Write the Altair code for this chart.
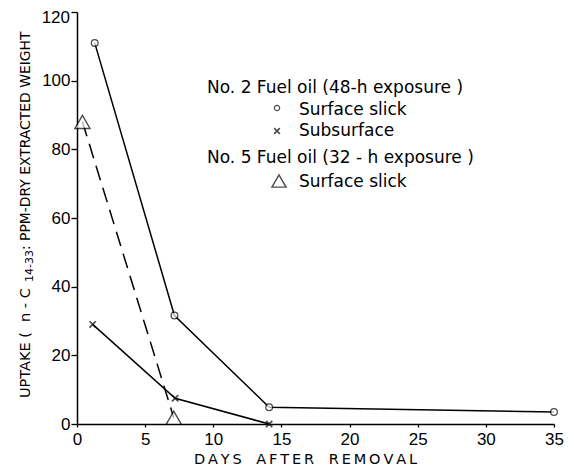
import altair as alt
import pandas as pd

# No. 2 Fuel oil, surface slick (circles)
s2_x = [1.3, 7.15, 14.1, 35.0]
s2_y = [111, 31.6, 4.9, 3.5]
# No. 2 Fuel oil, subsurface (x)
sub_x = [1.15, 7.2, 14.1]
sub_y = [29, 7.5, 0]
# No. 5 Fuel oil, surface slick (triangles)
s5_x = [0.4, 7.1]
s5_y = [88, 1.8]

x_ticks = [0, 5, 10, 15, 20, 25, 30, 35]
y_ticks = [0, 20, 40, 60, 80, 100, 120]

legend_lines = ["No. 2 Fuel oil (48-h exposure )", "Surface slick", "Subsurface",
                "No. 5 Fuel oil (32 - h exposure )", "Surface slick"]

x_title = "\u2002\u2002".join("\u2009".join(w) for w in ["DAYS", "AFTER", "REMOVAL"])
y_title_parts = ["UPTAKE (", "n - C", "14-33", " : PPM-DRY EXTRACTED WEIGHT"]

df2 = pd.DataFrame({"x": s2_x, "y": s2_y})
dsub = pd.DataFrame({"x": sub_x, "y": sub_y})
d5 = pd.DataFrame({"x": s5_x, "y": s5_y})
dtop = pd.DataFrame({"y": [y_ticks[-1]], "t": [str(y_ticks[-1])]})

FONT = "Liberation Sans"
TFONT = "DejaVu Sans"
xs = alt.Scale(domain=[0, 35], nice=False, zero=False)
ys = alt.Scale(domain=[0, 120], nice=False)
xenc = alt.X("x:Q", scale=xs, title=x_title,
             axis=alt.Axis(values=x_ticks, tickSize=3, labelPadding=4, labelFlush=False,
                           grid=False, titleFont=TFONT, titleFontSize=14.5,
                           titleBaseline="alphabetic", titleY=39, titleX=228))
yenc = alt.Y("y:Q", scale=ys, title=None,
             axis=alt.Axis(values=y_ticks, tickSize=6, labelPadding=1, grid=False,
                           labelExpr="datum.value == 120 ? '' : datum.label"))

l2 = alt.Chart(df2).mark_line(color="black", strokeWidth=1.5).encode(x=xenc, y=yenc)
p2 = alt.Chart(df2).mark_point(shape="circle", size=45, color="black", filled=False, fill="white", strokeWidth=1.3).encode(x="x:Q", y="y:Q")
lsub = alt.Chart(dsub).mark_line(color="black", strokeWidth=1.5).encode(x="x:Q", y="y:Q")
xshape = "M-1,-1L1,1M1,-1L-1,1"
psub = alt.Chart(dsub).mark_point(shape=xshape, size=40, color="black", filled=False, strokeWidth=1.7).encode(x="x:Q", y="y:Q")
l5 = alt.Chart(d5).mark_line(color="black", strokeWidth=1.5, strokeDash=[15, 8]).encode(x="x:Q", y="y:Q")
p5 = alt.Chart(d5).mark_point(shape="triangle-up", size=230, color="black", filled=False, fill="white", strokeWidth=1.4).encode(x="x:Q", y="y:Q")

toplab = alt.Chart(dtop).mark_text(align="right", baseline="middle", font=FONT, fontSize=17,
                                   color="black", dy=6).encode(x=alt.value(-7), y=alt.Y("y:Q"), text="t:N")

one = pd.DataFrame({"a": [0]})
txt_pos = [(130, 76), (222, 98), (222, 119), (130, 146), (222, 170)]
texts = []
for s, (tx, ty) in zip(legend_lines, txt_pos):
    texts.append(alt.Chart(one).mark_text(text=s, align="left", baseline="middle", font=TFONT,
                                          fontSize=17, color="black")
                 .encode(x=alt.value(tx), y=alt.value(ty)))

# rotated y-axis title pieces: (start y, x, font size)
ypos = [(386, -51, 14.5), (310, -51, 14.5), (270, -47, 11), (238, -51, 13.9)]
for s, (py, px, fs) in zip(y_title_parts, ypos):
    texts.append(alt.Chart(one).mark_text(text=s, align="left", baseline="middle", font=TFONT,
                                          fontSize=fs, angle=270, color="black")
                 .encode(x=alt.value(px), y=alt.value(py)))

sym1 = alt.Chart(one).mark_point(shape="circle", size=28, color="black", filled=False, strokeWidth=1.2).encode(x=alt.value(200), y=alt.value(96))
sym2 = alt.Chart(one).mark_point(shape=xshape, size=32, color="black", filled=False, strokeWidth=1.7).encode(x=alt.value(200), y=alt.value(119))
sym3 = alt.Chart(one).mark_point(shape="triangle-up", size=200, color="black", filled=False, strokeWidth=1.4).encode(x=alt.value(202), y=alt.value(169))

chart = alt.layer(l2, lsub, l5, p2, psub, p5, toplab, *texts, sym1, sym2, sym3).properties(
    width=477, height=412,
    autosize=alt.AutoSizeParams(type="none"),
    padding={"left": 69, "top": 4, "right": 12, "bottom": 42},
    background="white",
).configure_view(stroke=None).configure_axis(
    domainColor="black", domainWidth=1.5, tickColor="black", tickWidth=1.3,
    labelFont=FONT, labelFontSize=17, labelColor="black",
    titleColor="black", titleFontWeight="normal",
)

chart.save("out.html", embed_options={"renderer": "svg", "actions": False})
